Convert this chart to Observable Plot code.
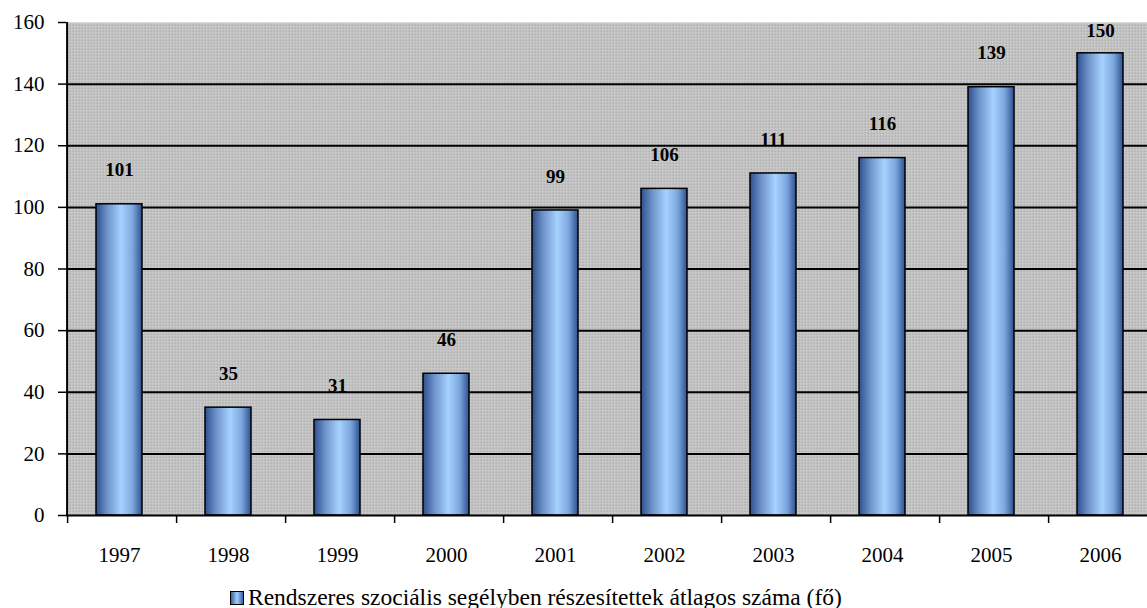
<!DOCTYPE html>
<html>
<head>
<meta charset="utf-8">
<script src="https://cdn.jsdelivr.net/npm/d3@7"></script>
<script src="https://cdn.jsdelivr.net/npm/@observablehq/plot@0.6"></script>
<style>
  html, body { margin: 0; padding: 0; background: #fff; overflow: hidden; width: 1147px; height: 608px; }
  #chart { position: relative; width: 1147px; overflow: hidden; }
  #chart svg { max-width: none !important; }
  #legend { position: absolute; left: 230px; top: 584px; font-family: "Liberation Serif", serif; font-size: 23.5px; color: #000; display: flex; align-items: center; white-space: nowrap; }
  #legend .sw { width: 12px; height: 12px; border: 1px solid #000; background: linear-gradient(to right, #3d5f9e, #9fcfff 50%, #3d5f9e); margin-right: 4px; }
</style>
</head>
<body>
<div id="chart"></div>
<div id="legend"><span class="sw"></span><span>Rendszeres szociális segélyben részesítettek átlagos száma (fő)</span></div>
<script>
const years = ["1997","1998","1999","2000","2001","2002","2003","2004","2005","2006"];
const values = [101, 35, 31, 46, 99, 106, 111, 116, 139, 150];
const yTicks = [0, 20, 40, 60, 80, 100, 120, 140, 160];
const gridValues = [20, 40, 60, 80, 100, 120, 140];
const seriesName = "Rendszeres szociális segélyben részesítettek átlagos száma (fő)";

const data = years.map((y, i) => ({year: y, value: values[i]}));

const W = 1160, H = 575, ML = 66, MR = 7, MT = 22, MB = 60;
const PI = 0.58, PO = 0.265;
const step = (W - ML - MR) / (years.length - PI + 2 * PO);
const firstCenterOffset = PO * step + (1 - PI) * step / 2;
const serif = "Liberation Serif, Times New Roman, serif";

const chart = Plot.plot({
  width: W,
  height: H,
  marginLeft: ML,
  marginRight: MR,
  marginTop: MT,
  marginBottom: MB,
  style: {fontFamily: serif, fontSize: "21px", background: "#fff", color: "#000", maxWidth: "none"},
  x: {domain: years, paddingInner: PI, paddingOuter: PO, label: null},
  y: {domain: [0, 160], label: null},
  marks: [
    Plot.frame({fill: "#c2c2c2", stroke: "none"}),
    Plot.frame({fill: "url(#dots)", stroke: "none"}),
    Plot.ruleY(gridValues, {stroke: "#000", strokeWidth: 2}),
    Plot.barY(data, {x: "year", y: "value", fill: "url(#barGrad)", stroke: "#000", strokeWidth: 1.5}),
    // labels sit above each bar, kept inside the plot area (as in the original)
    Plot.text(data, {x: "year", y: d => Math.min(d.value + 11, 157.4), text: d => String(d.value), fontWeight: "bold", fontSize: 19, fontFamily: serif, fill: "#000"}),
    Plot.axisY(yTicks, {tickSize: 8, tickPadding: 14, fontSize: 21, fontFamily: serif, stroke: "#000", strokeWidth: 1.5}),
    Plot.axisX(years, {tickSize: 0, tickPadding: 32, fontSize: 21, fontFamily: serif}),
    Plot.axisX(years, {tickSize: 8, dx: -firstCenterOffset, tickFormat: () => "", stroke: "#000", strokeWidth: 1.5}),
    Plot.ruleY([0], {stroke: "#000", strokeWidth: 2}),
    Plot.ruleX([years[0]], {dx: -firstCenterOffset - 0.5, y1: 0, y2: 160, stroke: "#000", strokeWidth: 2})
  ]
});

// gradient & texture definitions
const ns = "http://www.w3.org/2000/svg";
const defs = document.createElementNS(ns, "defs");
defs.innerHTML = `
  <linearGradient id="barGrad" x1="0" x2="1" y1="0" y2="0">
    <stop offset="0" stop-color="#2f4f8f"/>
    <stop offset="0.25" stop-color="#6f94cc"/>
    <stop offset="0.55" stop-color="#a6d2ff"/>
    <stop offset="0.8" stop-color="#7aa6dc"/>
    <stop offset="1" stop-color="#2f4f8f"/>
  </linearGradient>
  <pattern id="dots" width="3" height="3" patternUnits="userSpaceOnUse">
    <rect x="0" y="0" width="1" height="1" fill="#9a9a9a"/>
    <rect x="2" y="2" width="1" height="1" fill="#e0e0e0"/>
  </pattern>`;
chart.insertBefore(defs, chart.firstChild);
document.getElementById("chart").appendChild(chart);
</script>
</body>
</html>
